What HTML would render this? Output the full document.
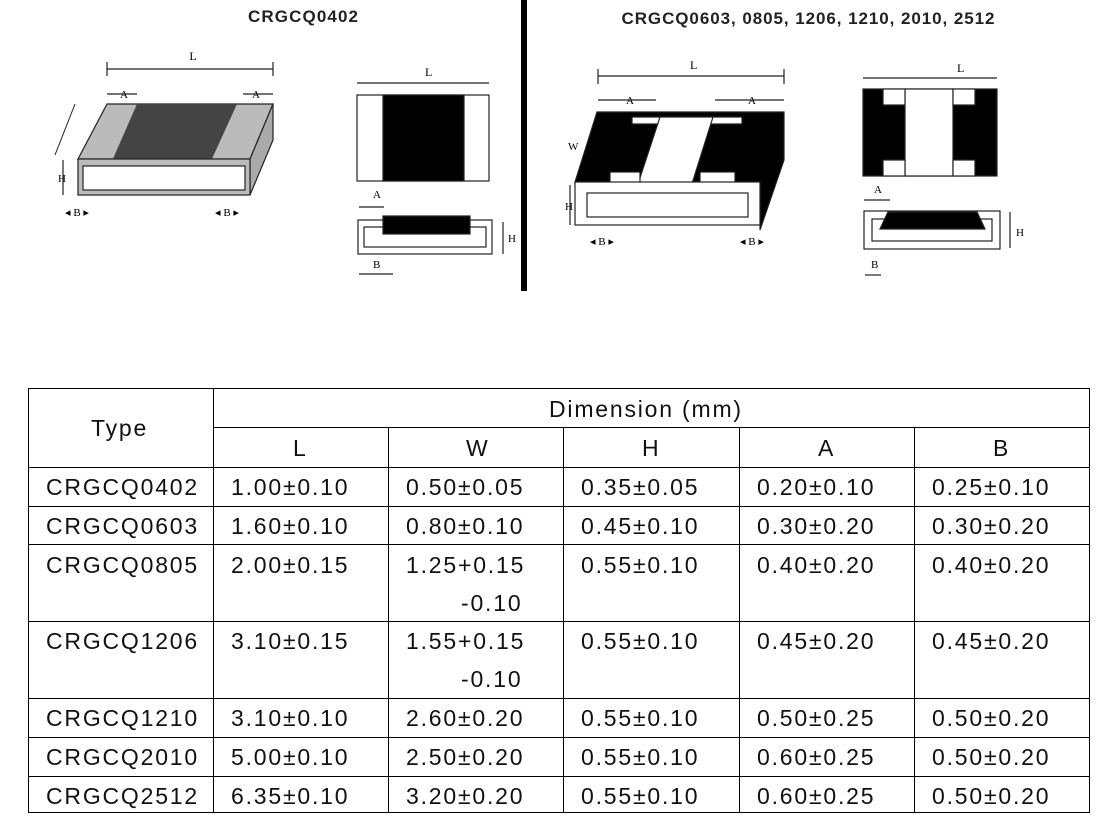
<!DOCTYPE html>
<html><head><meta charset="utf-8"><style>
body{margin:0;background:#fff;width:1101px;height:834px;position:relative;overflow:hidden;font-family:"Liberation Sans",sans-serif;}
.t{position:absolute;font-size:23px;letter-spacing:1.8px;color:#111;white-space:nowrap;line-height:1;}
.h{position:absolute;background:#000;height:1px;}
.v{position:absolute;background:#000;width:1px;}
</style></head><body>
<svg width="1101" height="300" style="position:absolute;left:0;top:0" font-family="Liberation Serif, serif">
<text x="303" y="22" font-family="Liberation Sans, sans-serif" font-weight="bold" font-size="17" text-anchor="middle" fill="#222" textLength="110">CRGCQ0402</text>
<text x="808" y="24" font-family="Liberation Sans, sans-serif" font-weight="bold" font-size="17" text-anchor="middle" fill="#222" textLength="373">CRGCQ0603, 0805, 1206, 1210, 2010, 2512</text>
<rect x="521" y="0" width="6" height="291" fill="#000"/>
<g stroke="#222" stroke-width="1.2">
<line x1="107" y1="69" x2="273" y2="69"/><line x1="107" y1="62" x2="107" y2="76"/><line x1="273" y1="62" x2="273" y2="76"/>
<line x1="107" y1="94" x2="137" y2="94"/><line x1="243" y1="94" x2="273" y2="94"/>
<polygon points="107,104 273,104 250,159 78,159" fill="#bbb"/>
<polygon points="137,104 237,104 211,161 112,161" fill="#444" stroke="none"/>
<polygon points="250,159 273,104 273,140 250,195" fill="#aaa"/>
<rect x="78" y="159" width="172" height="36" fill="#bbb"/>
<rect x="83" y="166" width="162" height="24" fill="#fff"/>
<line x1="75" y1="104" x2="55" y2="155" stroke-width="1"/>
<line x1="63" y1="160" x2="63" y2="195"/>
</g>
<text x="193" y="60" font-size="12" text-anchor="middle">L</text>
<text x="124" y="98" font-size="11" text-anchor="middle">A</text>
<text x="256" y="98" font-size="11" text-anchor="middle">A</text>
<text x="77" y="216" font-size="11" text-anchor="middle">◂ B ▸</text>
<text x="227" y="216" font-size="11" text-anchor="middle">◂ B ▸</text>
<text x="58" y="182" font-size="11">H</text>
<g stroke="#222" stroke-width="1.2">
<line x1="357" y1="83" x2="489" y2="83"/>
<rect x="357" y="95" width="132" height="86" fill="#fff"/>
<rect x="383" y="95" width="81" height="86" fill="#000"/>
<rect x="358" y="220" width="134" height="34" fill="#fff"/>
<rect x="364" y="227" width="122" height="20" fill="#fff"/>
<rect x="383" y="216" width="87" height="18" fill="#000"/>
<line x1="359" y1="207" x2="384" y2="207"/><line x1="359" y1="274" x2="393" y2="274"/>
<line x1="503" y1="222" x2="503" y2="254"/>
</g>
<text x="425" y="76" font-size="12">L</text>
<text x="373" y="198" font-size="11">A</text><text x="373" y="268" font-size="11">B</text><text x="508" y="242" font-size="11">H</text>
<g stroke="#222" stroke-width="1.2">
<line x1="598" y1="76" x2="784" y2="76"/><line x1="598" y1="69" x2="598" y2="84"/><line x1="784" y1="69" x2="784" y2="84"/>
<line x1="598" y1="100" x2="656" y2="100"/><line x1="715" y1="100" x2="784" y2="100"/>
<polygon points="597,112 784,112 784,160 760,230 760,182 575,182" fill="#000"/>
<polygon points="632,117 742,117 742,124 632,124" fill="#fff"/>
<polygon points="660,117 713,117 690,190 636,190" fill="#fff"/>
<rect x="610" y="172" width="30" height="12" fill="#fff"/><rect x="700" y="172" width="35" height="12" fill="#fff"/>
<rect x="575" y="182" width="185" height="43" fill="#fff"/>
<rect x="587" y="193" width="161" height="24" fill="#fff"/>
<line x1="570" y1="185" x2="570" y2="225"/>
<line x1="863" y1="78" x2="997" y2="78"/>
<rect x="863" y="89" width="134" height="87" fill="#000"/>
<rect x="905" y="89" width="48" height="87" fill="#fff"/>
<rect x="883" y="89" width="22" height="16" fill="#fff"/><rect x="883" y="160" width="22" height="16" fill="#fff"/>
<rect x="953" y="89" width="22" height="16" fill="#fff"/><rect x="953" y="160" width="22" height="16" fill="#fff"/>
<rect x="864" y="211" width="136" height="38" fill="#fff"/>
<rect x="872" y="219" width="120" height="22" fill="#fff"/>
<polygon points="888,212 977,212 985,229 880,229" fill="#000"/>
<line x1="864" y1="200" x2="890" y2="200"/><line x1="865" y1="275" x2="881" y2="275"/>
<line x1="1010" y1="212" x2="1010" y2="248"/>
</g>
<text x="690" y="69" font-size="12">L</text>
<text x="626" y="104" font-size="11">A</text><text x="748" y="104" font-size="11">A</text>
<text x="590" y="245" font-size="11">◂ B ▸</text><text x="740" y="245" font-size="11">◂ B ▸</text>
<text x="565" y="210" font-size="11">H</text><text x="568" y="150" font-size="11">W</text>
<text x="957" y="72" font-size="12">L</text>
<text x="874" y="193" font-size="11">A</text><text x="871" y="268" font-size="11">B</text><text x="1016" y="236" font-size="11">H</text>
</svg>

<div class="h" style="left:28px;top:388px;width:1062px"></div>
<div class="h" style="left:213px;top:427px;width:877px"></div>
<div class="h" style="left:28px;top:467px;width:1062px"></div>
<div class="h" style="left:28px;top:506px;width:1062px"></div>
<div class="h" style="left:28px;top:544px;width:1062px"></div>
<div class="h" style="left:28px;top:621px;width:1062px"></div>
<div class="h" style="left:28px;top:698px;width:1062px"></div>
<div class="h" style="left:28px;top:737px;width:1062px"></div>
<div class="h" style="left:28px;top:776px;width:1062px"></div>
<div class="h" style="left:28px;top:812px;width:1062px"></div>
<div class="v" style="left:28px;top:388px;height:425px"></div>
<div class="v" style="left:213px;top:388px;height:425px"></div>
<div class="v" style="left:388px;top:427px;height:386px"></div>
<div class="v" style="left:563px;top:427px;height:386px"></div>
<div class="v" style="left:739px;top:427px;height:386px"></div>
<div class="v" style="left:914px;top:427px;height:386px"></div>
<div class="v" style="left:1089px;top:388px;height:425px"></div>

<div class="t" style="left:91px;top:417px">Type</div>
<div class="t" style="left:549px;top:398px">Dimension (mm)</div>
<div class="t" style="left:293px;top:437px">L</div>
<div class="t" style="left:466px;top:437px">W</div>
<div class="t" style="left:642px;top:437px">H</div>
<div class="t" style="left:818px;top:437px">A</div>
<div class="t" style="left:993px;top:437px">B</div>

<div class="t" style="left:46px;top:476px">CRGCQ0402</div><div class="t" style="left:231px;top:476px">1.00±0.10</div><div class="t" style="left:406px;top:476px">0.50±0.05</div><div class="t" style="left:581px;top:476px">0.35±0.05</div><div class="t" style="left:757px;top:476px">0.20±0.10</div><div class="t" style="left:932px;top:476px">0.25±0.10</div>
<div class="t" style="left:46px;top:515px">CRGCQ0603</div><div class="t" style="left:231px;top:515px">1.60±0.10</div><div class="t" style="left:406px;top:515px">0.80±0.10</div><div class="t" style="left:581px;top:515px">0.45±0.10</div><div class="t" style="left:757px;top:515px">0.30±0.20</div><div class="t" style="left:932px;top:515px">0.30±0.20</div>
<div class="t" style="left:46px;top:554px">CRGCQ0805</div><div class="t" style="left:231px;top:554px">2.00±0.15</div><div class="t" style="left:406px;top:554px">1.25+0.15</div><div class="t" style="left:461px;top:592px">-0.10</div><div class="t" style="left:581px;top:554px">0.55±0.10</div><div class="t" style="left:757px;top:554px">0.40±0.20</div><div class="t" style="left:932px;top:554px">0.40±0.20</div>
<div class="t" style="left:46px;top:630px">CRGCQ1206</div><div class="t" style="left:231px;top:630px">3.10±0.15</div><div class="t" style="left:406px;top:630px">1.55+0.15</div><div class="t" style="left:461px;top:668px">-0.10</div><div class="t" style="left:581px;top:630px">0.55±0.10</div><div class="t" style="left:757px;top:630px">0.45±0.20</div><div class="t" style="left:932px;top:630px">0.45±0.20</div>
<div class="t" style="left:46px;top:707px">CRGCQ1210</div><div class="t" style="left:231px;top:707px">3.10±0.10</div><div class="t" style="left:406px;top:707px">2.60±0.20</div><div class="t" style="left:581px;top:707px">0.55±0.10</div><div class="t" style="left:757px;top:707px">0.50±0.25</div><div class="t" style="left:932px;top:707px">0.50±0.20</div>
<div class="t" style="left:46px;top:746px">CRGCQ2010</div><div class="t" style="left:231px;top:746px">5.00±0.10</div><div class="t" style="left:406px;top:746px">2.50±0.20</div><div class="t" style="left:581px;top:746px">0.55±0.10</div><div class="t" style="left:757px;top:746px">0.60±0.25</div><div class="t" style="left:932px;top:746px">0.50±0.20</div>
<div class="t" style="left:46px;top:785px">CRGCQ2512</div><div class="t" style="left:231px;top:785px">6.35±0.10</div><div class="t" style="left:406px;top:785px">3.20±0.20</div><div class="t" style="left:581px;top:785px">0.55±0.10</div><div class="t" style="left:757px;top:785px">0.60±0.25</div><div class="t" style="left:932px;top:785px">0.50±0.20</div>
</body></html>
